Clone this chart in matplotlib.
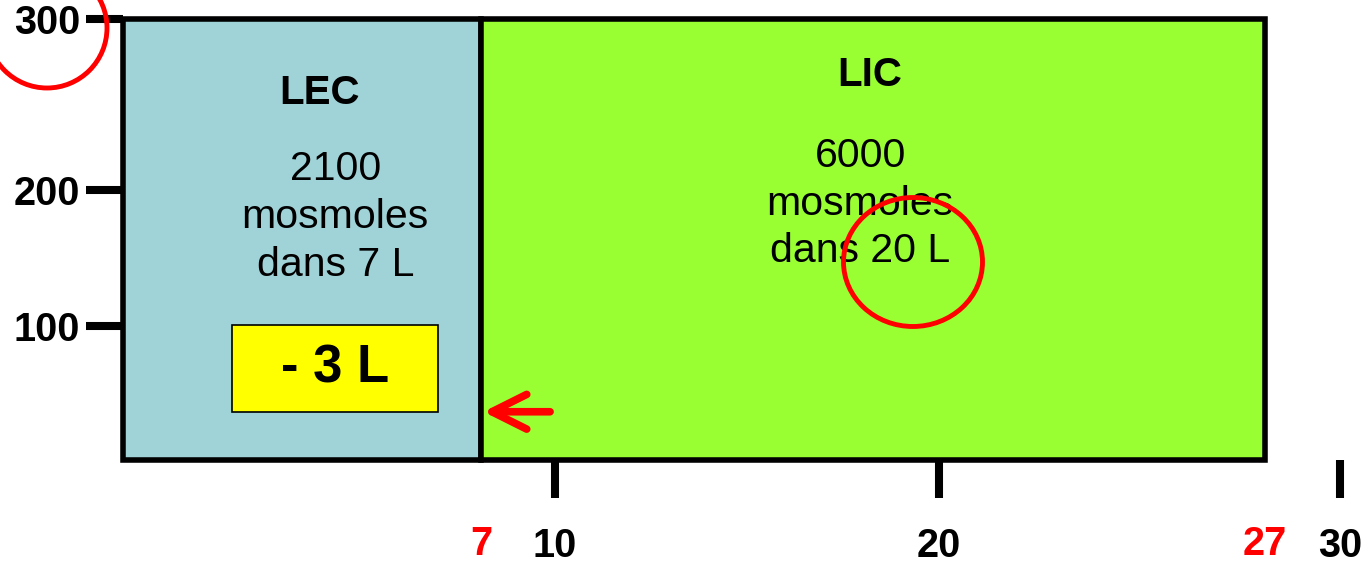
import numpy as np
import matplotlib.pyplot as plt
from matplotlib.patches import Rectangle, Ellipse

plt.rcParams["font.family"] = ["Liberation Sans", "DejaVu Sans"]

# Données
compartments = ["LEC", "LIC"]
volumes = [7, 20]          # L
osmoles = [2100, 6000]     # mosmoles
volume_change = -3         # L
x_ticks = [10, 20, 30]
x_marks = [7, 27]
y_ticks = [100, 200, 300]
colors = ["#A0D3D8", "#99FF33"]

# Échelle schématique (non proportionnelle) du dessin original
x_knots = [0, 7, 10, 20, 27, 30]
x_pos = [0, 358, 432, 816, 1142, 1217]
y_knots = [0, 100, 200, 300]
y_pos = [0, 134, 270, 441]


def fx(v):
    return np.interp(v, x_knots, x_pos)


def ifx(p):
    return np.interp(p, x_pos, x_knots)


def fy(v):
    return np.interp(v, y_knots, y_pos)


def ify(p):
    return np.interp(p, y_pos, y_knots)


fig = plt.figure(figsize=(13.63, 5.62), dpi=100)
ax = fig.add_axes([123 / 1363, 102 / 562, 1217 / 1363, 441 / 562])
ax.set_xscale("function", functions=(fx, ifx))
ax.set_yscale("function", functions=(fy, ify))
ax.set_xlim(0, 30)
ax.set_ylim(0, 300)

# Compartiments : largeur = volume, hauteur = osmolalité
lefts = np.concatenate([[0], np.cumsum(volumes)[:-1]])
heights = np.array(osmoles) / np.array(volumes)
ax.bar(lefts, heights, width=volumes, align="edge", color=colors,
       edgecolor="black", linewidth=4, clip_on=False, zorder=1)

# Titres et textes des compartiments
ax.text(3.85, 257, compartments[0], ha="center", va="center",
        fontsize=29, fontweight="bold")
ax.text(4.15, 180, f"{osmoles[0]}\nmosmoles\ndans {volumes[0]} L",
        ha="center", va="center", fontsize=29.5, linespacing=1.33)
ax.text(18.2, 267, compartments[1], ha="center", va="center",
        fontsize=29, fontweight="bold")
ax.text(17.95, 190, f"{osmoles[1]}\nmosmoles\ndans {volumes[1]} L",
        ha="center", va="center", fontsize=29.5, linespacing=1.33)

# Encadré jaune
ax.add_patch(Rectangle((2.13, 35.8), 4.03, 65, facecolor="#FFFF00",
                       edgecolor="black", linewidth=1.2, zorder=2))
ax.text(4.15, 68, f"- {abs(volume_change)} L", ha="center", va="center",
        fontsize=38, fontweight="bold", zorder=3)

# Flèche rouge
ax.annotate("", xy=(7.1, 36), xytext=(9.8, 36),
            arrowprops=dict(arrowstyle="->, head_length=2.5, head_width=1.25",
                            color="red", lw=5.5, capstyle="round",
                            shrinkA=0, shrinkB=0))

# Axes
for s in ax.spines.values():
    s.set_visible(False)
ax.set_xticks(x_ticks, labels=[str(t) for t in x_ticks])
ax.set_xticks(x_marks, labels=[str(t) for t in x_marks], minor=True)
ax.set_yticks(y_ticks, labels=[str(t) for t in y_ticks])
ax.tick_params(axis="x", which="major", length=27, width=5.8, pad=21,
               labelsize=28.5)
ax.tick_params(axis="x", which="minor", length=0, pad=47, labelsize=28.5,
               labelcolor="red")
ax.tick_params(axis="y", which="major", length=27, width=5.8, pad=4,
               labelsize=28.5)
ax.tick_params(axis="y", which="minor", length=0)
for lab in ax.get_xticklabels() + ax.get_xticklabels(minor=True) + ax.get_yticklabels():
    lab.set_fontweight("bold")

# Cercles rouges (annotations)
ov = fig.add_axes([0, 0, 1, 1])
ov.set_xlim(0, 1363)
ov.set_ylim(562, 0)
ov.axis("off")
ov.add_patch(Ellipse((47, 28), 120, 120, fill=False, edgecolor="red", linewidth=3.5))
ov.add_patch(Ellipse((913, 262), 139, 129, fill=False, edgecolor="red", linewidth=3.5))

fig.savefig("out.png", dpi=100)
